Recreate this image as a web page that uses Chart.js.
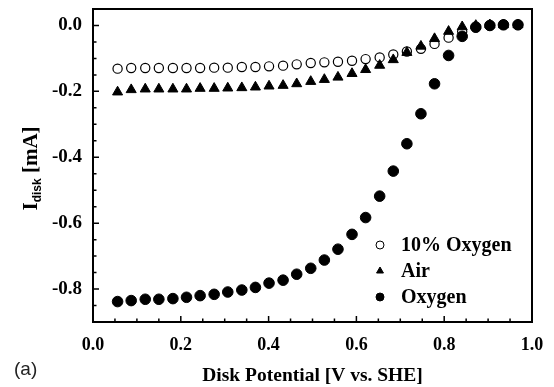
<!DOCTYPE html>
<html>
<head>
<meta charset="utf-8">
<script src="https://cdn.jsdelivr.net/npm/chart.js@4.4.1/dist/chart.umd.min.js"></script>
<style>
  body { margin: 0; background: #fff; }
  #wrap { width: 554px; height: 387px; }
</style>
</head>
<body>
<div id="wrap"><canvas id="diskChart" width="554" height="387"></canvas></div>
<script>
// disk potential [V vs. SHE]
const potential = [0.056, 0.087, 0.119, 0.150, 0.182, 0.213, 0.244, 0.276, 0.307, 0.339,
                   0.370, 0.401, 0.433, 0.464, 0.496, 0.527, 0.558, 0.590, 0.621, 0.653,
                   0.684, 0.715, 0.747, 0.778, 0.810, 0.841, 0.872, 0.904, 0.935, 0.968];

// disk current [mA]
const tenPctOxygen = [-0.131, -0.129, -0.129, -0.129, -0.129, -0.129, -0.129, -0.128, -0.128, -0.126,
                      -0.126, -0.124, -0.122, -0.118, -0.114, -0.112, -0.110, -0.107, -0.102, -0.097,
                      -0.088, -0.079, -0.071, -0.056, -0.037, -0.018, -0.006, 0.000, 0.002, 0.002];
const air = [-0.202, -0.195, -0.193, -0.193, -0.193, -0.193, -0.191, -0.191, -0.190, -0.189,
             -0.187, -0.184, -0.182, -0.177, -0.170, -0.164, -0.157, -0.146, -0.134, -0.121,
             -0.104, -0.082, -0.063, -0.040, -0.018, -0.004, 0.000, 0.002, 0.002, 0.002];
const oxygen = [-0.838, -0.835, -0.831, -0.831, -0.829, -0.825, -0.820, -0.816, -0.809, -0.803,
                -0.795, -0.782, -0.773, -0.755, -0.737, -0.712, -0.679, -0.634, -0.583, -0.518,
                -0.442, -0.359, -0.268, -0.177, -0.091, -0.033, -0.005, 0.000, 0.002, 0.002];

const seriesNames = ['10% Oxygen', 'Air', 'Oxygen'];
const xTicks = [0.0, 0.2, 0.4, 0.6, 0.8, 1.0];
const yTicks = [-0.8, -0.6, -0.4, -0.2, 0.0];

function pairs(ys) {
    return potential.map((x, i) => ({ x: x, y: ys[i] }));
}

const serif = 'Liberation Serif, Times New Roman, serif';

// moldura, marcas internas, legenda e textos extras
const extras = {
    id: 'extras',
    afterDraw(chart) {
        const ctx = chart.ctx;
        const a = chart.chartArea;
        const xs = chart.scales.x;
        const ys = chart.scales.y;
        ctx.save();
        ctx.strokeStyle = '#000';
        ctx.lineWidth = 2;
        ctx.strokeRect(a.left, a.top, a.right - a.left, a.bottom - a.top);

        ctx.lineWidth = 1.5;
        ctx.beginPath();
        for (let k = 0; k <= 20; k++) {
            const px = xs.getPixelForValue(k * 0.05);
            const len = k % 4 === 0 ? 6 : 3.5;
            ctx.moveTo(px, a.bottom);
            ctx.lineTo(px, a.bottom - len);
        }
        for (let k = -18; k <= 0; k++) {
            const py = ys.getPixelForValue(k * 0.05);
            const len = k % 4 === 0 ? 6 : 3.5;
            ctx.moveTo(a.left, py);
            ctx.lineTo(a.left + len, py);
        }
        ctx.stroke();

        // legenda
        const lx = a.right - 152;
        chart.data.datasets.forEach((ds, i) => {
            const cy = a.bottom - 77 + i * 26;
            ctx.fillStyle = ds.backgroundColor;
            ctx.strokeStyle = ds.borderColor;
            ctx.lineWidth = 1;
            Chart.helpers.drawPoint(ctx, { pointStyle: ds.pointStyle, radius: 4, rotation: 0, borderWidth: 1 }, lx, cy);
            ctx.fillStyle = '#000';
            ctx.font = 'bold 20px ' + serif;
            ctx.textAlign = 'left';
            ctx.textBaseline = 'middle';
            ctx.fillText(ds.label, lx + 21, cy + 1);
        });

        // titulo do eixo y com subscrito
        ctx.save();
        ctx.translate(30, (a.top + a.bottom) / 2 + 3);
        ctx.rotate(-Math.PI / 2);
        const bigFont = 'bold 21px ' + serif;
        const subFont = 'bold 12px Liberation Sans, Arial, sans-serif';
        ctx.font = bigFont;
        const wI = ctx.measureText('I').width;
        const wRest = ctx.measureText(' [mA]').width;
        ctx.font = subFont;
        const wSub = ctx.measureText('disk').width;
        let tx = -(wI + wSub + wRest) / 2;
        ctx.fillStyle = '#000';
        ctx.textAlign = 'left';
        ctx.textBaseline = 'alphabetic';
        ctx.font = bigFont;
        ctx.fillText('I', tx, 7);
        tx += wI;
        ctx.font = subFont;
        ctx.fillText('disk', tx, 11);
        tx += wSub;
        ctx.font = bigFont;
        ctx.fillText(' [mA]', tx, 7);
        ctx.restore();

        ctx.fillStyle = '#222';
        ctx.font = '19px Liberation Sans, Arial, sans-serif';
        ctx.textAlign = 'left';
        ctx.textBaseline = 'middle';
        ctx.fillText('(a)', 14, 370);
        ctx.restore();
    }
};

const ctx = document.getElementById('diskChart').getContext('2d');
const chart = new Chart(ctx, {
    type: 'scatter',
    data: {
        datasets: [
            {
                label: seriesNames[0],
                data: pairs(tenPctOxygen),
                pointStyle: 'circle',
                pointRadius: 4.6,
                borderWidth: 1.2,
                borderColor: '#000',
                backgroundColor: '#fff',
                order: 3
            },
            {
                label: seriesNames[1],
                data: pairs(air),
                pointStyle: 'triangle',
                pointRadius: 5.8,
                borderWidth: 1,
                borderColor: '#000',
                backgroundColor: '#000',
                order: 2
            },
            {
                label: seriesNames[2],
                data: pairs(oxygen),
                pointStyle: 'circle',
                pointRadius: 5.3,
                borderWidth: 1,
                borderColor: '#000',
                backgroundColor: '#000',
                order: 1
            }
        ]
    },
    options: {
        responsive: false,
        animation: false,
        layout: { padding: { left: 0, right: 22, top: 9, bottom: 0 } },
        plugins: {
            legend: { display: false },
            tooltip: { enabled: false }
        },
        scales: {
            x: {
                type: 'linear',
                min: 0,
                max: 1.0,
                grid: { display: false },
                border: { display: false },
                afterBuildTicks: s => { s.ticks = xTicks.map(v => ({ value: v })); },
                afterFit: s => { s.height = 65; s.paddingLeft = 0; s.paddingRight = 0; },
                ticks: {
                    color: '#000',
                    padding: 5,
                    font: { family: serif, size: 18, weight: 'bold' },
                    callback: v => v.toFixed(1)
                },
                title: {
                    display: true,
                    text: 'Disk Potential [V vs. SHE]',
                    color: '#000',
                    padding: { top: 0, bottom: -1 },
                    font: { family: serif, size: 19.5, weight: 'bold' }
                }
            },
            y: {
                type: 'linear',
                min: -0.9,
                max: 0.05,
                grid: { display: false },
                border: { display: false },
                afterBuildTicks: s => { s.ticks = yTicks.map(v => ({ value: v })); },
                afterFit: s => { s.width = 93; s.paddingTop = 0; s.paddingBottom = 0; },
                ticks: {
                    color: '#000',
                    padding: 3,
                    font: { family: serif, size: 19, weight: 'bold' },
                    callback: v => v.toFixed(1)
                }
            }
        }
    },
    plugins: [extras]
});
</script>
</body>
</html>
